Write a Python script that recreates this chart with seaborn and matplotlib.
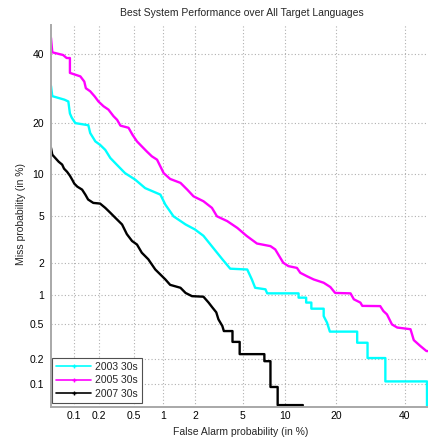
import numpy as np
import pandas as pd
import matplotlib
matplotlib.use("Agg")
import matplotlib.pyplot as plt
from matplotlib.lines import Line2D
import seaborn as sns
from statistics import NormalDist

# DET curve operating points: false alarm % and miss % (curve vertices)
fa_2003 = [0.05, 0.052, 0.075, 0.084, 0.088, 0.093, 0.103, 0.149, 0.157, 0.181,
           0.206, 0.237, 0.271, 0.309, 0.397, 0.513, 0.654, 0.937, 1.05, 1.26,
           1.64, 2.0, 2.38, 2.91, 3.45, 4.0, 5.43, 5.88, 6.22, 7.38,
           7.59, 12.23, 12.23, 13.6, 13.6, 14.6, 14.6, 17.16, 17.16, 17.9,
           18.55, 25.46, 25.46, 28.4, 28.4, 33.8, 33.8, 47.6, 47.6]
miss_2003 = [30.0, 27.0, 26.0, 25.5, 22.3, 21.2, 19.9, 19.4, 17.6, 15.8,
             15.1, 14.1, 12.6, 11.7, 10.1, 9.14, 8.0, 7.2, 6.09, 4.97,
             4.29, 3.91, 3.47, 2.72, 2.18, 1.79, 1.76, 1.42, 1.18, 1.14,
             1.04, 1.04, 0.942, 0.942, 0.84, 0.84, 0.727, 0.727, 0.608, 0.518,
             0.413, 0.413, 0.31, 0.31, 0.206, 0.206, 0.107, 0.107, 0.01]

fa_2005 = [0.05, 0.052, 0.072, 0.08, 0.088, 0.088, 0.119, 0.133, 0.139, 0.157,
           0.178, 0.197, 0.226, 0.258, 0.295, 0.324, 0.353, 0.434, 0.48, 0.536,
           0.602, 0.68, 0.767, 0.867, 1.01, 1.17, 1.47, 1.70, 1.94, 2.38,
           2.82, 3.11, 3.78, 4.56, 5.36, 6.41, 8.0, 8.63, 9.76, 10.55,
           11.95, 12.53, 13.78, 15.06, 17.16, 18.66, 19.78, 23.66, 24.55, 26.35,
           26.9, 32.2, 33.2, 34.3, 35.9, 37.6, 42.0, 43.1, 45.3, 47.4, 49.9]
miss_2005 = [45.6, 40.7, 39.8, 38.8, 38.8, 34.0, 32.9, 31.3, 29.3, 28.4,
             26.9, 25.5, 24.2, 23.3, 21.6, 20.7, 19.3, 18.8, 17.2, 15.8,
             14.8, 13.8, 12.9, 12.3, 10.1, 9.24, 8.69, 7.81, 7.0, 6.45,
             5.76, 4.97, 4.56, 4.02, 3.47, 2.99, 2.84, 2.66, 2.03, 1.89,
             1.82, 1.64, 1.52, 1.42, 1.32, 1.2, 1.05, 1.04, 0.907, 0.84,
             0.777, 0.773, 0.686, 0.634, 0.495, 0.458, 0.439, 0.332, 0.285, 0.249, 0.247]

fa_2007 = [0.05, 0.052, 0.063, 0.07, 0.074, 0.081, 0.088, 0.094, 0.1, 0.109,
           0.125, 0.137, 0.148, 0.171, 0.206, 0.237, 0.271, 0.309, 0.368, 0.416,
           0.474, 0.536, 0.603, 0.705, 0.832, 0.937, 1.05, 1.17, 1.47, 1.64,
           1.88, 2.38, 2.64, 2.84, 3.07, 3.2, 3.45, 3.55, 4.17, 4.17,
           4.75, 4.75, 7.25, 7.25, 8.0, 8.0, 8.96, 8.96, 13.0]
miss_2007 = [14.5, 13.2, 11.95, 11.46, 10.8, 10.3, 9.71, 9.14, 8.59, 8.19,
             7.81, 7.2, 6.64, 6.27, 6.2, 5.76, 5.29, 4.84, 4.29, 3.58,
             3.14, 2.93, 2.49, 2.18, 1.76, 1.58, 1.42, 1.26, 1.18, 1.05,
             0.975, 0.963, 0.84, 0.75, 0.666, 0.562, 0.476, 0.419, 0.419, 0.317,
             0.317, 0.229, 0.229, 0.189, 0.189, 0.091, 0.091, 0.053, 0.053]

systems = ["2003 30s", "2005 30s", "2007 30s"]
colors = ["#00FFFF", "#FF00FF", "#000000"]
tick_values = [0.1, 0.2, 0.5, 1, 2, 5, 10, 20, 40]
tick_labels = ["0.1", "0.2", "0.5", "1", "2", "5", "10", "20", "40"]

_nd = NormalDist()


def probit(pct):
    return np.array([_nd.inv_cdf(p / 100.0) for p in np.atleast_1d(pct)])


frames = []
for name, fa, miss in zip(systems, [fa_2003, fa_2005, fa_2007],
                          [miss_2003, miss_2005, miss_2007]):
    frames.append(pd.DataFrame({"system": name,
                                "fa_dev": probit(fa),
                                "miss_dev": probit(miss)}))
df = pd.concat(frames, ignore_index=True)

sns.set_theme(style="white")
plt.rcParams["font.family"] = ["Liberation Sans", "DejaVu Sans"]
FS = 7.5

fig = plt.figure(figsize=(4.28, 4.40), dpi=100)
ax = fig.add_axes([51 / 428, 33 / 440, 383 / 428, 382 / 440])

sns.lineplot(data=df, x="fa_dev", y="miss_dev", hue="system",
             palette=dict(zip(systems, colors)), estimator=None, sort=False,
             linewidth=1.7, legend=False, ax=ax)

lims = probit([0.05, 50])
ax.set_xlim(lims)
ax.set_ylim(lims)
ax.set_xticks(probit(tick_values))
ax.set_xticklabels(tick_labels)
ax.set_yticks(probit(tick_values))
ax.set_yticklabels(tick_labels)
ax.set_xlabel("")
ax.set_ylabel("")

ax.grid(True, linestyle=(0, (1, 2)), color="#b0b0b0", linewidth=0.8)
ax.set_axisbelow(True)
for side in ["top", "right"]:
    ax.spines[side].set_visible(False)
for side in ["left", "bottom"]:
    ax.spines[side].set_color("#a8a8a8")
    ax.spines[side].set_linewidth(1.4)
ax.tick_params(direction="in", length=3, color="#808080", width=0.8,
               labelsize=FS, labelcolor="black")
ax.tick_params(axis="y", pad=5)
ax.tick_params(axis="x", pad=3)

handles = [Line2D([], [], color=c, lw=1.2, marker="+", markersize=3)
           for c in colors]
leg = ax.legend(handles, systems, loc="lower left",
                bbox_to_anchor=(0.003, 0.01), borderaxespad=0, fontsize=FS,
                frameon=True, fancybox=False, edgecolor="#505050",
                framealpha=1, handlelength=3.3, handletextpad=0.4,
                labelspacing=0.35, borderpad=0.4)
leg.get_frame().set_linewidth(0.8)

fig.text(0.565, 1 - 13.5 / 440, "Best System Performance over All Target Languages",
         ha="center", va="center", fontsize=FS)
fig.text(241 / 428, 1 - 432 / 440, "False Alarm probability (in %)",
         ha="center", va="center", fontsize=FS)
fig.text(21 / 428, 1 - 214 / 440, "Miss probability (in %)",
         ha="center", va="center", rotation=90, fontsize=FS)

fig.savefig("out.png", dpi=100)
